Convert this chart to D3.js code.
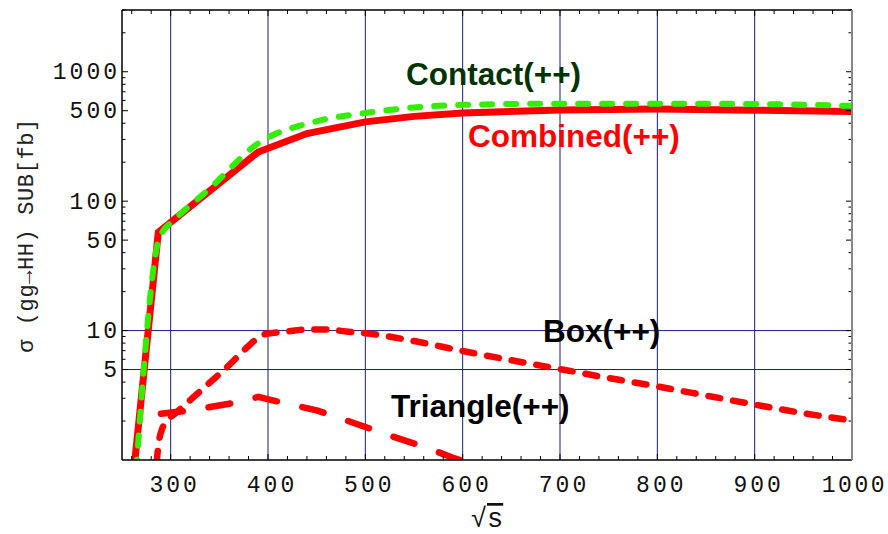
<!DOCTYPE html>
<html>
<head>
<meta charset="utf-8">
<script src="https://cdn.jsdelivr.net/npm/d3@7"></script>
<style>
  body { margin: 0; background: #fff; }
  svg { display: block; }
</style>
</head>
<body>
<div id="chart"></div>
<script>
const width = 888;
const height = 534;
const margin = { top: 10, right: 36, bottom: 74, left: 122 };

// sqrt(s) [GeV] vs sigma [fb]
const combined = [[261, 0.68], [287.3, 57.5], [340, 120], [390, 240], [440, 333], [500, 410],
    [550, 452], [600, 480], [700, 507], [800, 515], [900, 505], [1000, 492]];
const contact = [[263, 0.55], [287.5, 50], [293, 60], [301, 69], [340, 125], [390, 280],
    [448, 411], [500, 480], [600, 555], [700, 567], [800, 567], [900, 563], [1000, 545]];
const box = [[285.5, 0.95], [288, 1.4], [292, 1.8], [297, 2.05], [305, 2.3], [320, 2.9],
    [340, 3.95], [360, 5.4], [380, 7.6], [395, 9.3], [420, 9.85], [440, 10.2], [460, 10.2],
    [480, 9.85], [500, 9.55], [550, 8.3], [600, 6.95], [650, 5.9], [700, 5.04], [750, 4.3],
    [800, 3.7], [850, 3.15], [900, 2.68], [950, 2.3], [1000, 2.02]];
const triangle = [[290, 2.28], [320, 2.42], [360, 2.72], [390, 3.07], [420, 2.72], [450, 2.42],
    [480, 2.03], [500, 1.8], [530, 1.5], [560, 1.27], [590, 1.04], [610, 0.93]];

const xTicks = [300, 400, 500, 600, 700, 800, 900, 1000];
const yTicks = [5, 10, 50, 100, 500, 1000];
const xGrid = [300, 400, 500, 600, 700, 800, 900];
const yGrid = [5, 10];

const svg = d3.select("#chart")
    .append("svg")
    .attr("width", width)
    .attr("height", height);

const x = d3.scaleLinear()
    .domain([250, 1000])
    .range([margin.left, width - margin.right]);

const y = d3.scaleLog()
    .domain([1, 3000])
    .range([height - margin.bottom, margin.top]);

const [x0, x1] = x.range();
const [y0, y1] = y.range();

svg.append("clipPath").attr("id", "plot")
    .append("rect")
    .attr("x", x0).attr("y", y1)
    .attr("width", x1 - x0).attr("height", y0 - y1);

// grid
svg.append("g").selectAll("line")
    .data(xGrid)
    .enter().append("line")
    .attr("x1", d => x(d)).attr("x2", d => x(d))
    .attr("y1", y1).attr("y2", y0)
    .attr("stroke", "#1a1a8a")
    .attr("stroke-width", 1);

svg.append("g").selectAll("line")
    .data(yGrid)
    .enter().append("line")
    .attr("x1", x0).attr("x2", x1)
    .attr("y1", d => y(d)).attr("y2", d => y(d))
    .attr("stroke", "#1a1a8a")
    .attr("stroke-width", 1);

// curves
const line = d3.line()
    .x(d => x(d[0]))
    .y(d => y(d[1]));

const curves = svg.append("g").attr("clip-path", "url(#plot)");

curves.append("path")
    .datum(combined)
    .attr("d", line)
    .attr("fill", "none")
    .attr("stroke", "#ff0000")
    .attr("stroke-width", 7);

curves.append("path")
    .datum(contact)
    .attr("d", line.curve(d3.curveMonotoneX))
    .attr("fill", "none")
    .attr("stroke", "#33ee00")
    .attr("stroke-width", 6)
    .attr("stroke-linecap", "round")
    .attr("stroke-dasharray", "10,14");

curves.append("path")
    .datum(box)
    .attr("d", line.curve(d3.curveMonotoneX))
    .attr("fill", "none")
    .attr("stroke", "#ff0000")
    .attr("stroke-width", 6.5)
    .attr("stroke-linecap", "round")
    .attr("stroke-dasharray", "12,13");

curves.append("path")
    .datum(triangle)
    .attr("d", line.curve(d3.curveLinear))
    .attr("fill", "none")
    .attr("stroke", "#ff0000")
    .attr("stroke-width", 6.5)
    .attr("stroke-linecap", "round")
    .attr("stroke-dasharray", "22,26");

// frame and ticks (pointing inward, mirrored)
const minorY = [];
for (let k = 1; k <= 1000; k *= 10) {
    for (let m = 1; m <= 9; m++) {
        const v = m * k;
        if (v > 1 && v <= 3000 && !yTicks.includes(v)) minorY.push(v);
    }
}
const minorX = d3.range(260, 1000, 20).filter(d => !xTicks.includes(d));

const axes = svg.append("g").attr("stroke", "#000").attr("stroke-width", 1);

axes.selectAll(".ly").data(yTicks.concat(minorY)).enter().append("line")
    .attr("x1", x0).attr("x2", d => x0 + (yTicks.includes(d) ? 6 : 3.5))
    .attr("y1", d => y(d)).attr("y2", d => y(d));
axes.selectAll(".ry").data(yTicks.concat(minorY)).enter().append("line")
    .attr("x1", x1).attr("x2", d => x1 - (yTicks.includes(d) ? 6 : 3.5))
    .attr("y1", d => y(d)).attr("y2", d => y(d));
axes.selectAll(".bx").data(xTicks.concat(minorX)).enter().append("line")
    .attr("y1", y0).attr("y2", d => y0 - (xTicks.includes(d) ? 6 : 4))
    .attr("x1", d => x(d)).attr("x2", d => x(d));
axes.selectAll(".tx").data(xTicks.concat(minorX)).enter().append("line")
    .attr("y1", y1).attr("y2", d => y1 + (xTicks.includes(d) ? 6 : 4))
    .attr("x1", d => x(d)).attr("x2", d => x(d));

svg.append("line").attr("x1", x0).attr("x2", x1).attr("y1", y1).attr("y2", y1)
    .attr("stroke", "#000").attr("stroke-width", 1.5);
svg.append("line").attr("x1", x0).attr("x2", x1).attr("y1", y0).attr("y2", y0)
    .attr("stroke", "#000").attr("stroke-width", 1.5);
svg.append("line").attr("x1", x0).attr("x2", x0).attr("y1", y1).attr("y2", y0)
    .attr("stroke", "#000").attr("stroke-width", 1.5);
svg.append("line").attr("x1", x1).attr("x2", x1).attr("y1", y1).attr("y2", y0)
    .attr("stroke", "#888").attr("stroke-width", 2);

// tick labels
const tickFont = "'Liberation Mono', 'Courier New', monospace";

svg.append("g").selectAll("text")
    .data(yTicks)
    .enter().append("text")
    .attr("x", x0 - 2)
    .attr("y", d => y(d) + 7.5)
    .attr("text-anchor", "end")
    .style("font-family", tickFont)
    .style("font-size", "23px")
    .style("letter-spacing", "3px")
    .style("fill", "#111")
    .text(d => d);

svg.append("g").selectAll("text")
    .data(xTicks)
    .enter().append("text")
    .attr("x", d => d === 1000 ? width - 1 : x(d) + 4)
    .attr("y", y0 + 32)
    .attr("text-anchor", d => d === 1000 ? "end" : "middle")
    .style("font-family", tickFont)
    .style("font-size", "23px")
    .style("letter-spacing", d => d === 1000 ? "2.5px" : "3px")
    .style("fill", "#111")
    .text(d => d);

// axis titles
svg.append("text")
    .attr("transform", `translate(33, ${(118 + 353) / 2}) rotate(-90)`)
    .attr("text-anchor", "middle")
    .style("font-family", tickFont)
    .style("font-size", "22px")
    .style("letter-spacing", "0.6px")
    .style("fill", "#222")
    .text("σ (gg→HH) SUB[fb]");

const sq = svg.append("text")
    .attr("x", 487)
    .attr("y", 527)
    .attr("text-anchor", "middle")
    .style("font-family", tickFont)
    .style("font-size", "27px")
    .style("fill", "#111");
sq.append("tspan").text("√");
sq.append("tspan").style("text-decoration", "overline").text("s");

// curve labels
const labels = [
    { text: "Contact(++)", s: 406, v: 85, color: "#003300" },
    { text: "Combined(++)", s: 468, v: 147, color: "#ff0000" },
    { text: "Box(++)", s: 543, v: 342, color: "#000" },
    { text: "Triangle(++)", s: 391, v: 417, color: "#000" }
];

svg.append("g").selectAll("text")
    .data(labels)
    .enter().append("text")
    .attr("x", d => d.s)
    .attr("y", d => d.v)
    .style("font-family", "'Liberation Sans', Arial, sans-serif")
    .style("font-weight", "bold")
    .style("font-size", "31.5px")
    .style("fill", d => d.color)
    .text(d => d.text);
</script>
</body>
</html>
